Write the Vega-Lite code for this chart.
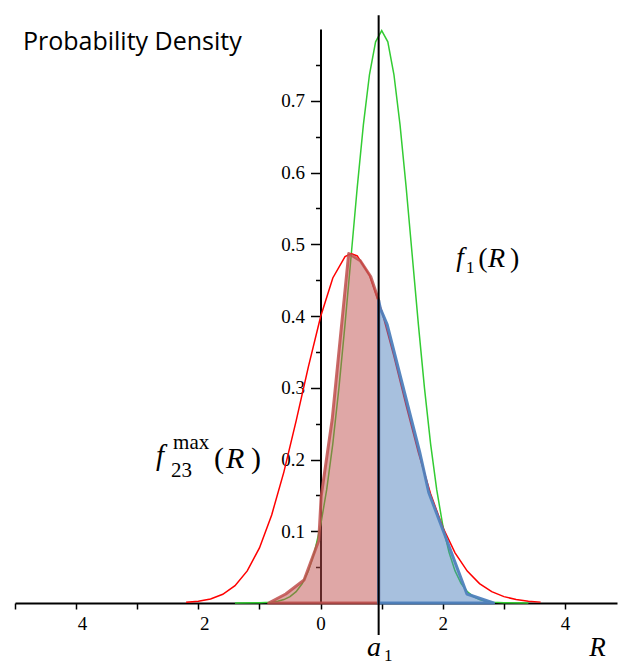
{
  "$schema": "https://vega.github.io/schema/vega-lite/v6.json",
  "width": 602,
  "height": 574,
  "padding": {"left": 15, "top": 29, "right": 1, "bottom": 63},
  "autosize": {"type": "none"},
  "background": "white",
  "config": {"view": {"stroke": null}},
  "datasets": {
    "green": [
      {"x": -1.4, "y": 0}, {"x": -1, "y": 0.00027}, {"x": -0.8, "y": 0.00122}, {"x": -0.7, "y": 0.00247},
      {"x": -0.6, "y": 0.00477}, {"x": -0.5, "y": 0.00886}, {"x": -0.4, "y": 0.01583}, {"x": -0.3, "y": 0.02717},
      {"x": -0.2, "y": 0.04479}, {"x": -0.1, "y": 0.07095}, {"x": 0, "y": 0.10798}, {"x": 0.1, "y": 0.1579},
      {"x": 0.2, "y": 0.22184}, {"x": 0.3, "y": 0.29945}, {"x": 0.4, "y": 0.38837}, {"x": 0.5, "y": 0.48394},
      {"x": 0.6, "y": 0.57938}, {"x": 0.7, "y": 0.66645}, {"x": 0.8, "y": 0.73654}, {"x": 0.9, "y": 0.78208},
      {"x": 1.0, "y": 0.79788}, {"x": 1.1, "y": 0.78208}, {"x": 1.2, "y": 0.73654}, {"x": 1.3, "y": 0.66645},
      {"x": 1.4, "y": 0.57938}, {"x": 1.5, "y": 0.48394}, {"x": 1.6, "y": 0.38837}, {"x": 1.7, "y": 0.29945},
      {"x": 1.8, "y": 0.22184}, {"x": 1.9, "y": 0.1579}, {"x": 2.0, "y": 0.10798}, {"x": 2.1, "y": 0.07095},
      {"x": 2.2, "y": 0.04479}, {"x": 2.3, "y": 0.02717}, {"x": 2.4, "y": 0.01583}, {"x": 2.5, "y": 0.00886},
      {"x": 2.6, "y": 0.00477}, {"x": 2.7, "y": 0.00247}, {"x": 2.8, "y": 0.00122}, {"x": 3.0, "y": 0.00027},
      {"x": 3.4, "y": 0}
    ],
    "red": [
      {"x": -2.2, "y": 0.00099}, {"x": -2.0, "y": 0.00246}, {"x": -1.8, "y": 0.00567}, {"x": -1.6, "y": 0.01216},
      {"x": -1.4, "y": 0.02418}, {"x": -1.2, "y": 0.04469}, {"x": -1.0, "y": 0.07678}, {"x": -0.8, "y": 0.12275},
      {"x": -0.6, "y": 0.18277}, {"x": -0.4, "y": 0.2538}, {"x": -0.2, "y": 0.32906}, {"x": 0, "y": 0.39894},
      {"x": 0.2, "y": 0.45303}, {"x": 0.4, "y": 0.48274}, {"x": 0.5, "y": 0.48688}, {"x": 0.6, "y": 0.48368},
      {"x": 0.8, "y": 0.45664}, {"x": 1.0, "y": 0.40716}, {"x": 1.2, "y": 0.34368}, {"x": 1.4, "y": 0.27527},
      {"x": 1.6, "y": 0.20969}, {"x": 1.8, "y": 0.15223}, {"x": 2.0, "y": 0.10553}, {"x": 2.2, "y": 0.06996},
      {"x": 2.4, "y": 0.04442}, {"x": 2.6, "y": 0.02704}, {"x": 2.8, "y": 0.01579}, {"x": 3.0, "y": 0.00885},
      {"x": 3.2, "y": 0.00477}, {"x": 3.4, "y": 0.00246}, {"x": 3.6, "y": 0.00122}
    ],
    "shadeLeft": [
      {"x": -0.85, "y": 0}, {"x": -0.57, "y": 0.0125}, {"x": -0.27, "y": 0.032}, {"x": -0.03, "y": 0.087},
      {"x": 0.01, "y": 0.149}, {"x": 0.19, "y": 0.256}, {"x": 0.46, "y": 0.487}, {"x": 0.65, "y": 0.477},
      {"x": 0.82, "y": 0.455}, {"x": 0.95, "y": 0.422}
    ],
    "shadeRight": [
      {"x": 0.95, "y": 0.422}, {"x": 0.98, "y": 0.41}, {"x": 1.09, "y": 0.388}, {"x": 1.62, "y": 0.211},
      {"x": 1.77, "y": 0.154}, {"x": 2.01, "y": 0.1}, {"x": 2.395, "y": 0.0125}, {"x": 2.83, "y": 0}
    ],
    "one": [{"k": 1}]
  },
  "layer": [
    {
      "data": {"name": "green"},
      "mark": {"type": "line", "color": "#33CC33", "strokeWidth": 1.5},
      "encoding": {
        "x": {
          "field": "x", "type": "quantitative", "title": null,
          "scale": {"domain": [-5, 4.85], "nice": false, "zero": false},
          "axis": {
            "title": null, "grid": false, "orient": "bottom",
            "values": [-5, -4, -3, -2, -1, 0, 1, 2, 3, 4],
            "labelExpr": "datum.value % 2 == 0 ? '' + abs(datum.value) : ''",
            "labelFont": "Liberation Serif", "labelFontSize": 19, "labelColor": "black",
            "labelOffset": {"condition": {"test": "datum.value < 0", "value": 6}, "value": 0},
            "labelPadding": 5, "labelFlush": false, "labelOverlap": false,
            "tickColor": "black", "tickSize": 6, "tickWidth": 1.5,
            "domainColor": "black", "domainWidth": 2
          }
        },
        "y": {
          "field": "y", "type": "quantitative", "title": null,
          "scale": {"domain": [0, 0.8], "nice": false, "zero": true},
          "axis": {
            "title": null, "grid": false, "orient": "left", "offset": -305.5,
            "values": [0.05, 0.1, 0.15, 0.2, 0.25, 0.3, 0.35, 0.4, 0.45, 0.5, 0.55, 0.6, 0.65, 0.7, 0.75],
            "labelExpr": "round(datum.value*20) % 2 == 0 ? format(datum.value, '.1f') : ''",
            "labelFont": "Liberation Serif", "labelFontSize": 19, "labelColor": "black",
            "labelPadding": 6, "labelOverlap": false, "labelFlush": false,
            "tickColor": "black", "tickWidth": 1.5,
            "tickSize": {"condition": {"test": "round(datum.value*20) % 2 == 0", "value": 10}, "value": 5},
            "domainColor": "black", "domainWidth": 2
          }
        }
      }
    },
    {"data": {"name": "red"}, "mark": {"type": "line", "color": "#FF0000", "strokeWidth": 1.5},
     "encoding": {"x": {"field": "x", "type": "quantitative", "title": null}, "y": {"field": "y", "type": "quantitative", "title": null}}},
    {"data": {"name": "shadeLeft"}, "mark": {"type": "area", "fill": "#C0504D", "fillOpacity": 0.5, "stroke": "#C0504D", "strokeOpacity": 0.85, "strokeWidth": 3, "strokeJoin": "round"},
     "encoding": {"x": {"field": "x", "type": "quantitative", "title": null}, "y": {"field": "y", "type": "quantitative", "title": null}}},
    {"data": {"name": "shadeRight"}, "mark": {"type": "area", "fill": "#4F81BD", "fillOpacity": 0.5, "stroke": "#4F81BD", "strokeOpacity": 0.95, "strokeWidth": 3, "strokeJoin": "round"},
     "encoding": {"x": {"field": "x", "type": "quantitative", "title": null}, "y": {"field": "y", "type": "quantitative", "title": null}}},
    {"data": {"name": "one"}, "mark": {"type": "rule", "color": "black", "strokeWidth": 2},
     "encoding": {"x": {"datum": 0.95, "type": "quantitative"}, "y": {"datum": -0.0446, "type": "quantitative"}, "y2": {"datum": 0.819}}},
    {"data": {"name": "one"}, "mark": {"type": "text", "text": "Probability Density", "font": "Open Sans", "fontSize": 25, "align": "left", "baseline": "alphabetic", "color": "black"},
     "encoding": {"x": {"datum": -4.87, "type": "quantitative"}, "y": {"datum": 0.771, "type": "quantitative"}}},
    {"data": {"name": "one"}, "mark": {"type": "text", "text": "f", "font": "Liberation Serif", "fontStyle": "italic", "fontSize": 27, "align": "left", "baseline": "alphabetic", "color": "black"},
     "encoding": {"x": {"datum": 2.218, "type": "quantitative"}, "y": {"datum": 0.4694, "type": "quantitative"}}},
    {"data": {"name": "one"}, "mark": {"type": "text", "text": "1", "font": "Liberation Serif", "fontSize": 17, "align": "left", "baseline": "alphabetic", "color": "black"},
     "encoding": {"x": {"datum": 2.381, "type": "quantitative"}, "y": {"datum": 0.4596, "type": "quantitative"}}},
    {"data": {"name": "one"}, "mark": {"type": "text", "text": "(", "font": "Liberation Serif", "fontSize": 28, "align": "left", "baseline": "alphabetic", "color": "black"},
     "encoding": {"x": {"datum": 2.578, "type": "quantitative"}, "y": {"datum": 0.468, "type": "quantitative"}}},
    {"data": {"name": "one"}, "mark": {"type": "text", "text": "R", "font": "Liberation Serif", "fontStyle": "italic", "fontSize": 28, "align": "left", "baseline": "alphabetic", "color": "black"},
     "encoding": {"x": {"datum": 2.741, "type": "quantitative"}, "y": {"datum": 0.468, "type": "quantitative"}}},
    {"data": {"name": "one"}, "mark": {"type": "text", "text": ")", "font": "Liberation Serif", "fontSize": 28, "align": "left", "baseline": "alphabetic", "color": "black"},
     "encoding": {"x": {"datum": 3.101, "type": "quantitative"}, "y": {"datum": 0.468, "type": "quantitative"}}},
    {"data": {"name": "one"}, "mark": {"type": "text", "text": "f", "font": "Liberation Serif", "fontStyle": "italic", "fontSize": 29, "align": "left", "baseline": "alphabetic", "color": "black"},
     "encoding": {"x": {"datum": -2.692, "type": "quantitative"}, "y": {"datum": 0.1922, "type": "quantitative"}}},
    {"data": {"name": "one"}, "mark": {"type": "text", "text": "23", "font": "Liberation Serif", "fontSize": 21, "align": "left", "baseline": "alphabetic", "color": "black"},
     "encoding": {"x": {"datum": -2.447, "type": "quantitative"}, "y": {"datum": 0.1755, "type": "quantitative"}}},
    {"data": {"name": "one"}, "mark": {"type": "text", "text": "max", "font": "Liberation Serif", "fontSize": 21, "align": "left", "baseline": "alphabetic", "color": "black"},
     "encoding": {"x": {"datum": -2.414, "type": "quantitative"}, "y": {"datum": 0.2145, "type": "quantitative"}}},
    {"data": {"name": "one"}, "mark": {"type": "text", "text": "(", "font": "Liberation Serif", "fontSize": 30, "align": "left", "baseline": "alphabetic", "color": "black"},
     "encoding": {"x": {"datum": -1.743, "type": "quantitative"}, "y": {"datum": 0.188, "type": "quantitative"}}},
    {"data": {"name": "one"}, "mark": {"type": "text", "text": "R", "font": "Liberation Serif", "fontStyle": "italic", "fontSize": 30, "align": "left", "baseline": "alphabetic", "color": "black"},
     "encoding": {"x": {"datum": -1.547, "type": "quantitative"}, "y": {"datum": 0.188, "type": "quantitative"}}},
    {"data": {"name": "one"}, "mark": {"type": "text", "text": ")", "font": "Liberation Serif", "fontSize": 30, "align": "left", "baseline": "alphabetic", "color": "black"},
     "encoding": {"x": {"datum": -1.137, "type": "quantitative"}, "y": {"datum": 0.188, "type": "quantitative"}}},
    {"data": {"name": "one"}, "mark": {"type": "text", "text": "a", "font": "Liberation Serif", "fontStyle": "italic", "fontSize": 28, "align": "left", "baseline": "alphabetic", "color": "black"},
     "encoding": {"x": {"datum": 0.761, "type": "quantitative"}, "y": {"datum": -0.0738, "type": "quantitative"}}},
    {"data": {"name": "one"}, "mark": {"type": "text", "text": "1", "font": "Liberation Serif", "fontSize": 17, "align": "left", "baseline": "alphabetic", "color": "black"},
     "encoding": {"x": {"datum": 1.039, "type": "quantitative"}, "y": {"datum": -0.0808, "type": "quantitative"}}},
    {"data": {"name": "one"}, "mark": {"type": "text", "text": "R", "font": "Liberation Serif", "fontStyle": "italic", "fontSize": 27, "align": "left", "baseline": "alphabetic", "color": "black"},
     "encoding": {"x": {"datum": 4.394, "type": "quantitative"}, "y": {"datum": -0.0738, "type": "quantitative"}}}
  ]
}
